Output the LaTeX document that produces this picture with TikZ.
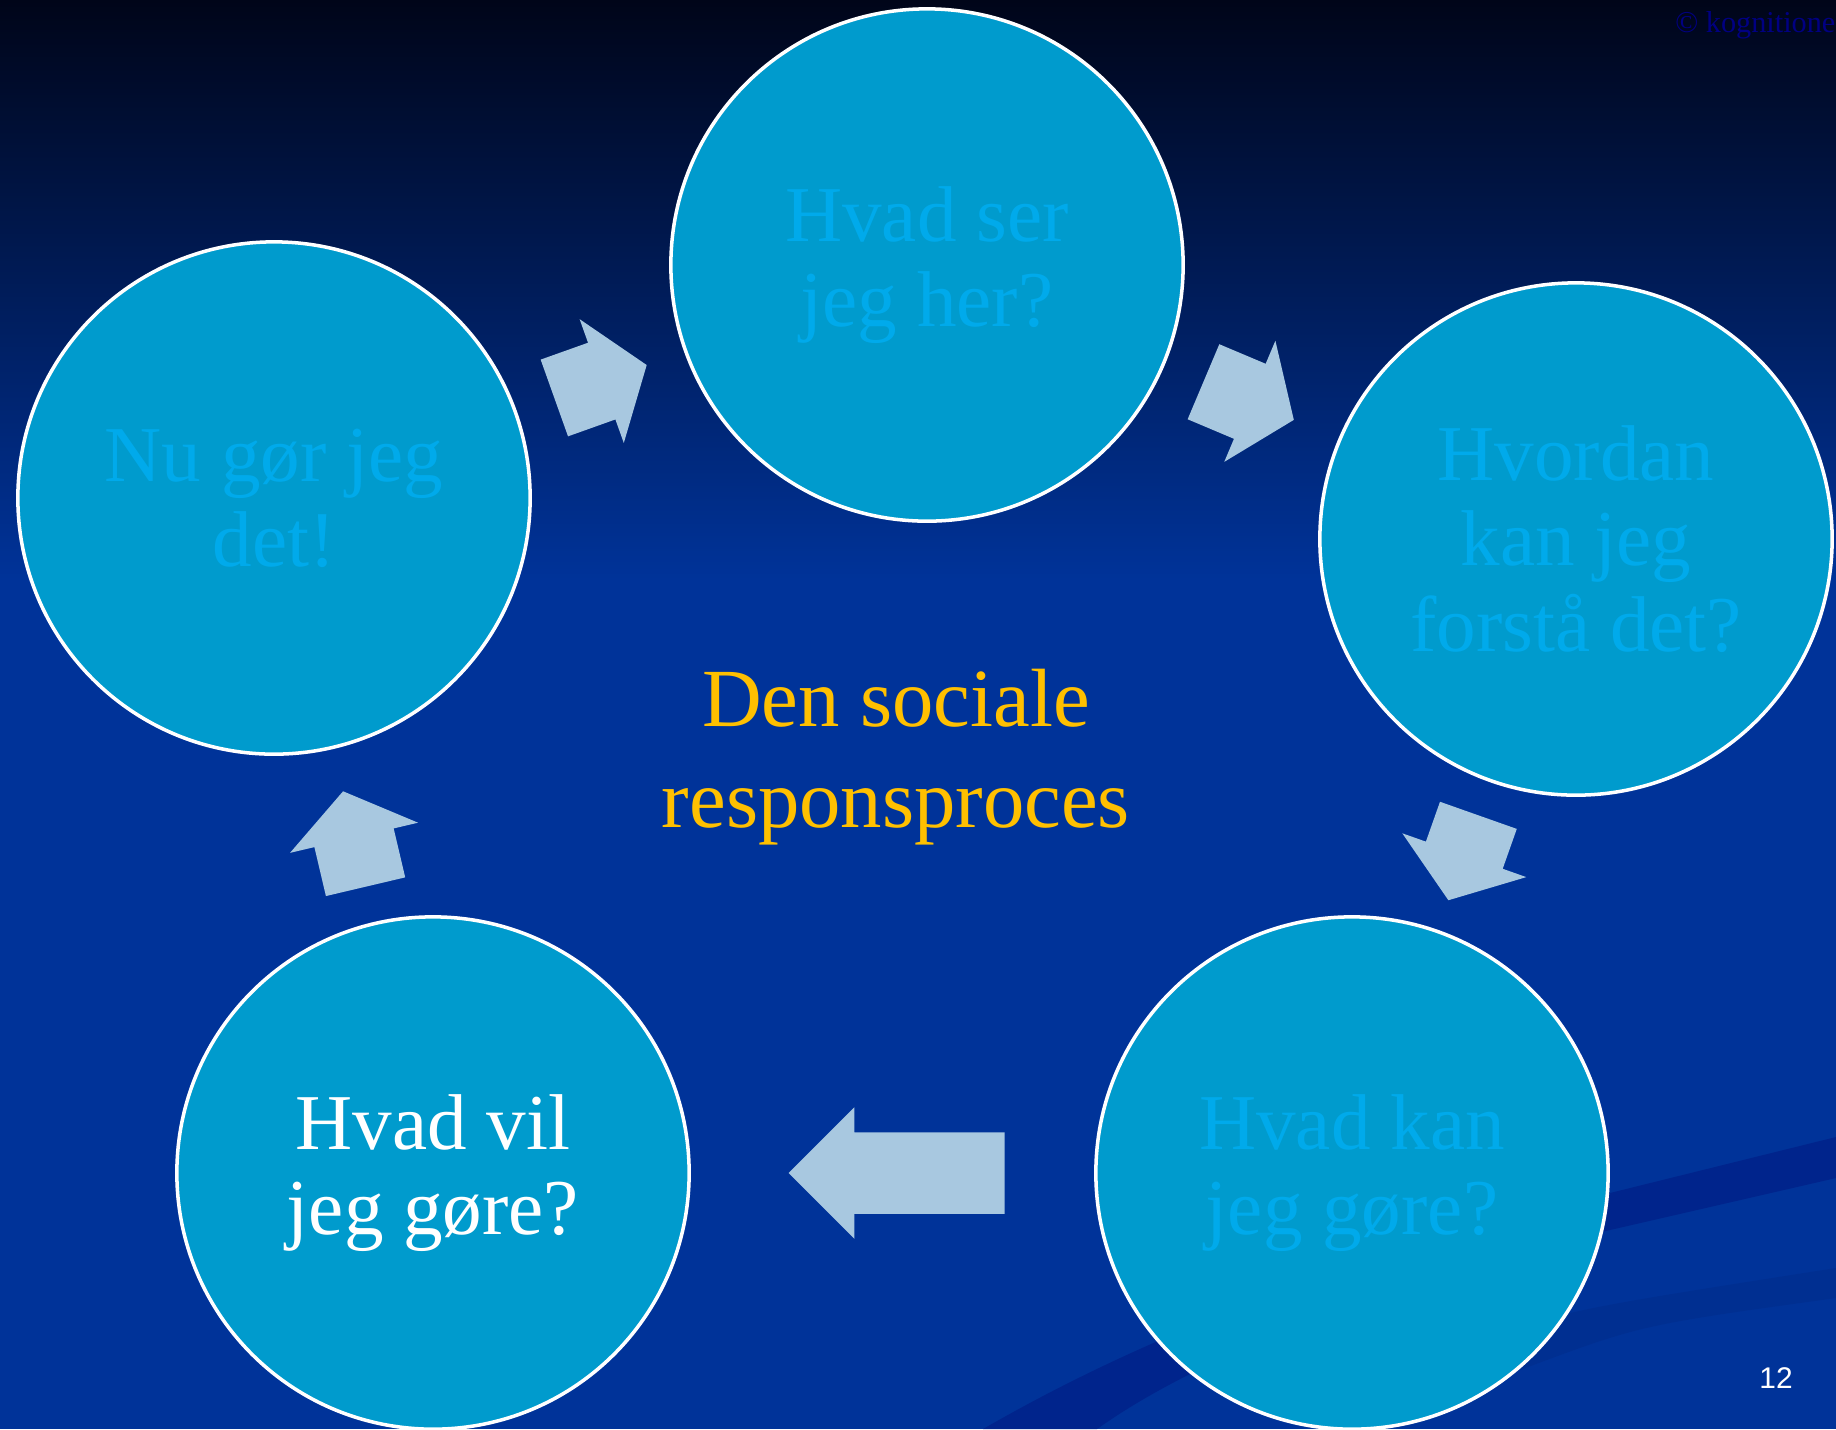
\documentclass[tikz,border=0pt]{standalone}
\usepackage{fontspec}
\setmainfont{Liberation Serif}
\setsansfont{Liberation Sans}
\usetikzlibrary{shapes.arrows, positioning}
\definecolor{cnight}{RGB}{0,5,25}
\definecolor{cdeep}{RGB}{0,51,153}
\definecolor{cband}{RGB}{0,36,140}
\definecolor{cshade}{RGB}{0,47,145}
\definecolor{cbubble}{RGB}{0,155,205}
\definecolor{cfaint}{RGB}{0,170,235}
\definecolor{carrow}{RGB}{168,200,224}
\definecolor{cgold}{RGB}{255,192,0}
\definecolor{cmark}{RGB}{0,0,130}
\tikzset{
  every picture/.style={x=0.01cm, y=-0.01cm},
  bubble/.style={circle, draw=white, line width=1pt, fill=cbubble, minimum size=5.12cm, inner sep=0pt, align=center, text=#1, font=\fontsize{22.5}{24.2}\selectfont},
  bubble/.default=cfaint,
  blockarrow/.style={single arrow, fill=carrow, inner xsep=0pt, inner ysep=0.4cm, minimum height=0.98cm, single arrow head extend=0.25cm, single arrow tip angle=108, sloped, allow upside down, pos=0.22, anchor=tail},
  title/.style={text=cgold, align=center, font=\fontsize{23.5}{28.7}\selectfont},
  note/.style={font=\fontsize{8.6}{10}\selectfont, text=cmark, inner sep=0pt, anchor=base east},
}

\begin{document}
\begin{tikzpicture}
  \useasboundingbox (0,0) rectangle (1836,1429);
  % background and swooshes
  \fill[cdeep] (0,0) rectangle (1836,1429);
  \shade[top color=cnight, bottom color=cdeep] (0,0) rectangle (1836,580);
  \fill[cband] (983,1429) .. controls (1060,1385) and (1250,1280) .. (1610,1193) -- (1836,1137) -- (1836,1178) -- (1610,1230) .. controls (1330,1300) and (1180,1370) .. (1097,1429) -- cycle;
  \fill[cshade] (1500,1330) .. controls (1600,1305) .. (1836,1268) -- (1836,1298) .. controls (1640,1325) .. (1520,1370) -- cycle;
  % the five questions
  \node[bubble] (see) at (927,265) {Hvad ser\\jeg her?};
  \node[bubble] (grasp) at (1576,539) {Hvordan\\kan jeg\\forstå det?};
  \node[bubble] (can) at (1352,1173) {Hvad kan\\jeg gøre?};
  \node[bubble=white] (will) at (433,1173) {Hvad vil\\jeg gøre?};
  \node[bubble] (act) at (274,498) {Nu gør jeg\\det!};
  \path (act) -- node[blockarrow] (a1) {} (see);
  \path (see) -- node[blockarrow] (a2) {} (grasp);
  \path (grasp) -- node[blockarrow, minimum height=0.9cm] (a3) {} (can);
  \path (can) -- node[blockarrow, minimum height=2.16cm, single arrow tip angle=90] (a4) {} (will);
  \path (will) -- node[blockarrow, pos=0.2] (a5) {} (act);
  \node[title] (process) at (896,757) {Den sociale\\responsproces};
  \node[note] (mark) at (1836,32) {© kognitione};
  \node[font=\sffamily\fontsize{8.5}{10}\selectfont, text=white, anchor=base] (page) at (1776,1388) {12};
\end{tikzpicture}
\end{document}
